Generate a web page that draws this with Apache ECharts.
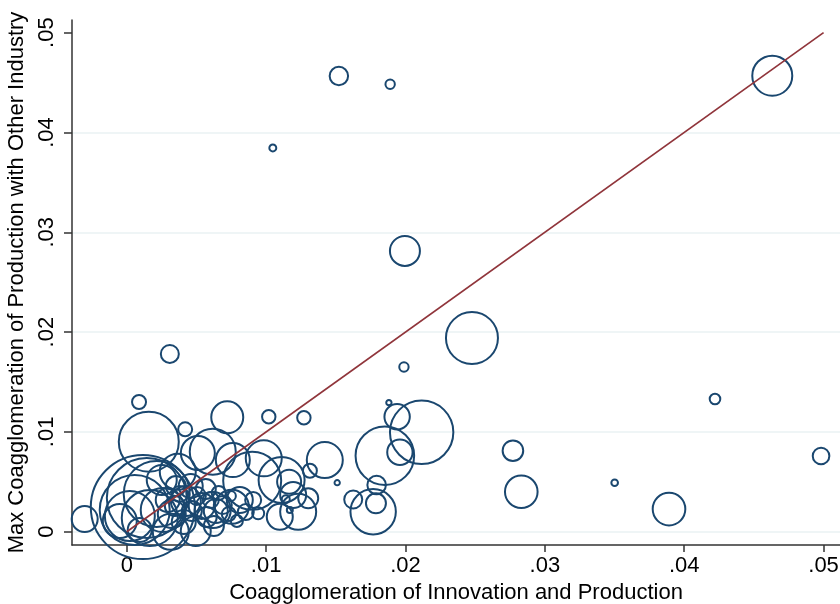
<!DOCTYPE html>
<html>
<head>
<meta charset="utf-8">
<script src="https://cdn.jsdelivr.net/npm/echarts@6/dist/echarts.min.js"></script>
<style>
html,body{margin:0;padding:0;background:#fff;}
#chart{width:840px;height:604px;}
</style>
</head>
<body>
<div id="chart"></div>
<script>
// Coagglomeration of innovation and production (x)
const coaggInnovProd = [
  0.01522, 0.0189, 0.01048, 0.04632, 0.01996, 0.02477, 0.00309, 0.01989, 0.00088, 0.01881, 0.04221, 0.01019, 0.01271, 0.00721, 0.0194, 0.02116, 0.01852, 0.0196, 0.01793, 0.01625, 0.01788, 0.01768, 0.02771, 0.02831, 0.03501, 0.03891, 0.04982,
  0.00983, 0.01421, 0.01111, 0.01165, 0.01314, 0.0151, 0.01194, 0.01302, 0.01098, 0.0123, 0.00943, 0.01141, 0.0117, 0.009, 0.00907,
  -0.00302, 0.00158, 0.00419, 0.0051, 0.00617, 0.00761, 0.00366, 0.00115, 0.00057, 0.00144, 0.00022, 0.00215, 0.00165, -0.0005, 0.00258, 0.00093, 0.00251,
  0.00294, 0.00345, 0.0038, 0.00323, 0.00424, 0.00467, 0.00503, 0.00409, 0.00538, 0.00574, 0.00603, 0.00639, 0.00689, 0.00732, 0.00754, 0.00811, 0.0079, 0.00854, 0.00459, 0.00352, 0.00567, 0.0066, 0.00495, 0.00625, 0.00316, 0.00747, 0.00617
];
// Max coagglomeration of production with other industry (y)
const maxCoaggOther = [
  0.04566, 0.04483, 0.03845, 0.04569, 0.02813, 0.01941, 0.01781, 0.0165, 0.013, 0.01293, 0.0133, 0.01152, 0.01142, 0.01146, 0.01152, 0.00996, 0.00762, 0.00796, 0.00468, 0.00323, 0.00285, 0.002, 0.00812, 0.00401, 0.00491, 0.00227, 0.00759,
  0.00735, 0.00718, 0.00518, 0.00501, 0.00611, 0.00491, 0.00368, 0.00335, 0.0015, 0.002, 0.00184, 0.00325, 0.00217, 0.00511, 0.00318,
  0.00127, 0.00902, 0.01026, 0.00789, 0.00802, 0.00718, 0.00601, 0.00247, 0.00217, 0.00338, 0.00157, 0.00378, 0.00137, 0.00107, 0.00217, 0.00017, 0.00518,
  0.00318, 0.00258, 0.00378, 0.00177, 0.00308, 0.00207, 0.00358, 0.00097, 0.00258, 0.00147, 0.00318, 0.00208, 0.00268, 0.00177, 0.0025, 0.00318, 0.00107, 0.00197, 0.00458, 0.00458, 0.00428, 0.00388, 0.00007, 0.00057, 0.0, 0.00358, 0.00217
];
// Frequency weights (marker area proportional to weight)
const weights = [
  0.85, 0.22, 0.12, 4.0, 2.25, 6.76, 0.81, 0.22, 0.49, 0.07, 0.28, 0.45, 0.45, 2.56, 1.61, 10.05, 8.58, 1.61, 0.86, 0.81, 1.0, 5.15, 1.06, 2.66, 0.11, 2.66, 0.69,
  3.24, 3.24, 5.29, 1.44, 0.49, 0.07, 1.69, 1.0, 1.69, 3.24, 0.36, 0.16, 0.09, 8.41, 0.64,
  1.69, 9.0, 0.49, 2.89, 5.29, 2.89, 3.24, 27.04, 12.25, 16.0, 6.25, 10.89, 7.84, 2.89, 4.84, 1.44, 2.25,
  1.44, 1.0, 0.64, 1.96, 2.25, 1.0, 0.81, 1.44, 1.69, 1.0, 0.64, 1.44, 0.81, 0.49, 2.89, 1.69, 0.36, 0.64, 1.44, 1.0, 1.0, 0.49, 2.25, 1.0, 3.24, 0.25, 3.24
];
// 45-degree reference line
const refLineX = [0, 0.05];
const refLineY = [0, 0.05];
// Tick values and labels
const xTickValues = [0, 0.01, 0.02, 0.03, 0.04, 0.05];
const xTickLabels = ['0', '.01', '.02', '.03', '.04', '.05'];
const yTickValues = [0, 0.01, 0.02, 0.03, 0.04, 0.05];
const yTickLabels = ['0', '.01', '.02', '.03', '.04', '.05'];

const xTitle = 'Coagglomeration of Innovation and Production';
const yTitle = 'Max Coagglomeration of Production with Other Industry';

function labelFor(values, labels) {
  return function (v) {
    for (let i = 0; i < values.length; i++) {
      if (Math.abs(values[i] - v) < 1e-9) return labels[i];
    }
    return '';
  };
}

const FONT = '"Liberation Sans", Arial, Helvetica, sans-serif';
const scatterData = coaggInnovProd.map((x, i) => [x, maxCoaggOther[i]]);
const lineData = refLineX.map((x, i) => [x, refLineY[i]]);

const chart = echarts.init(document.getElementById('chart'), null, {renderer: 'canvas'});
chart.setOption({
  animation: false,
  backgroundColor: '#ffffff',
  grid: {left: 72, right: 0, top: 20, bottom: 59, containLabel: false, outerBoundsMode: 'none'},
  xAxis: {
    type: 'value',
    min: -0.00393,
    max: 0.05118,
    minInterval: 0.01,
    maxInterval: 0.01,
    name: xTitle,
    nameLocation: 'middle',
    nameGap: 36,
    nameTextStyle: {fontFamily: FONT, fontSize: 22, color: '#000'},
    axisLine: {show: true, onZero: false, lineStyle: {color: '#333', width: 1.5}},
    axisTick: {show: true, length: 7, customValues: xTickValues, lineStyle: {color: '#333', width: 1.5}},
    axisLabel: {show: true, margin: 10, customValues: xTickValues, fontFamily: FONT, fontSize: 22, color: '#000', formatter: labelFor(xTickValues, xTickLabels)},
    splitLine: {show: false}
  },
  yAxis: {
    type: 'value',
    min: -0.00133,
    max: 0.05127,
    minInterval: 0.01,
    maxInterval: 0.01,
    name: yTitle,
    nameLocation: 'middle',
    nameGap: 41,
    nameRotate: 90,
    nameTextStyle: {fontFamily: FONT, fontSize: 22, color: '#000'},
    axisLine: {show: true, onZero: false, lineStyle: {color: '#333', width: 1.5}},
    axisTick: {show: true, length: 8, customValues: yTickValues, lineStyle: {color: '#333', width: 1.5}},
    axisLabel: {show: true, rotate: 90, margin: 14, customValues: yTickValues, fontFamily: FONT, fontSize: 22, color: '#000', formatter: labelFor(yTickValues, yTickLabels)},
    splitLine: {show: true, showMinLine: true, showMaxLine: false, lineStyle: {color: '#eaf2f3', width: 1.5}}
  },
  series: [
    {
      type: 'scatter',
      data: scatterData,
      clip: false,
      symbol: 'circle',
      symbolSize: function (val, params) { return 20 * Math.sqrt(weights[params.dataIndex]); },
      itemStyle: {color: 'rgba(0,0,0,0)', borderColor: '#1a476f', borderWidth: 2, opacity: 1},
      emphasis: {disabled: true}
    },
    {
      type: 'line',
      data: lineData,
      symbol: 'none',
      lineStyle: {color: '#90353b', width: 1.7, opacity: 1},
      emphasis: {disabled: true}
    }
  ]
});
</script>
</body>
</html>
